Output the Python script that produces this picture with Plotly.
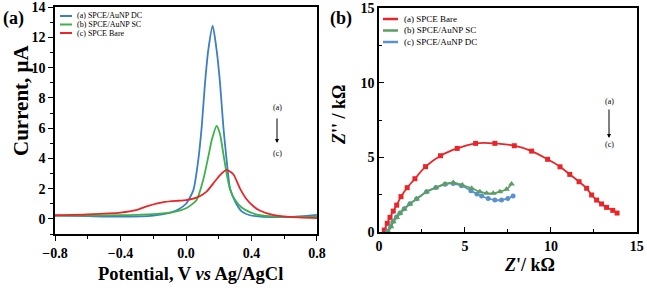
import plotly.graph_objects as go

# ---------------- Panel (a): DPV ----------------
dc_v = [-0.8, -0.6, -0.4, -0.2, -0.1, -0.05, 0.0, 0.045, 0.075, 0.096, 0.116, 0.136, 0.163,
        0.187, 0.208, 0.228, 0.248, 0.269, 0.3, 0.34, 0.39, 0.47, 0.57, 0.67, 0.8]
dc_i = [0.22, 0.18, 0.15, 0.22, 0.4, 0.6, 1.0, 1.9, 3.9, 6.1, 8.96, 11.16, 12.77,
        11.16, 8.96, 6.1, 3.9, 2.0, 1.15, 0.5, 0.24, 0.14, 0.11, 0.15, 0.26]

sc_v = [-0.8, -0.6, -0.4, -0.2, -0.08, 0.004, 0.065, 0.105, 0.136, 0.157, 0.187, 0.208,
        0.228, 0.248, 0.269, 0.3, 0.34, 0.39, 0.45, 0.55, 0.65, 0.8]
sc_i = [0.22, 0.22, 0.25, 0.32, 0.45, 0.72, 1.25, 2.57, 4.1, 5.2, 6.14, 5.6,
        4.3, 3.0, 1.95, 1.25, 0.75, 0.45, 0.24, 0.15, 0.13, 0.15]

bare_v = [-0.8, -0.6, -0.4, -0.3, -0.23, -0.13, -0.05, 0.0, 0.065, 0.126, 0.167, 0.208,
          0.248, 0.289, 0.33, 0.37, 0.41, 0.45, 0.53, 0.63, 0.8]
bare_i = [0.24, 0.3, 0.42, 0.6, 0.86, 1.12, 1.2, 1.24, 1.4, 1.8, 2.35, 2.9,
          3.24, 2.95, 2.0, 1.3, 0.85, 0.55, 0.26, 0.13, 0.05]

# ---------------- Panel (b): Nyquist ----------------
bare_zre = [0.31, 0.48, 0.64, 0.83, 1.03, 1.28, 1.64, 2.09, 2.71, 3.58, 4.55, 5.62, 6.74,
            7.87, 8.88, 9.81, 10.53, 11.1, 11.64, 12.08, 12.37, 12.66, 12.95, 13.24, 13.6, 13.85]
bare_zim = [0.13, 0.58, 0.98, 1.4, 1.8, 2.37, 2.97, 3.57, 4.38, 5.11, 5.6, 5.94, 5.94,
            5.78, 5.42, 4.87, 4.37, 3.86, 3.37, 2.93, 2.48, 2.14, 1.88, 1.65, 1.45, 1.27]

sc_zre = [0.54, 0.7, 0.83, 1.03, 1.22, 1.47, 1.8, 2.19, 2.77, 3.31, 3.84, 4.32, 4.85,
          5.39, 5.87, 6.26, 6.65, 7.03, 7.42, 7.71]
sc_zim = [0.02, 0.35, 0.69, 0.98, 1.25, 1.54, 1.88, 2.21, 2.7, 2.97, 3.22, 3.31, 3.15,
          2.93, 2.7, 2.6, 2.59, 2.7, 2.86, 3.22]

dc_zre = [0.5, 0.68, 0.82, 1.02, 1.22, 1.47, 1.8, 2.19, 2.77, 3.31, 3.84, 4.32, 4.8,
          5.35, 5.7, 5.97, 6.35, 6.74, 7.13, 7.5, 7.8]
dc_zim = [0.05, 0.4, 0.72, 1.0, 1.27, 1.55, 1.9, 2.22, 2.7, 2.98, 3.2, 3.25, 3.1,
          2.77, 2.55, 2.41, 2.25, 2.14, 2.14, 2.25, 2.41]

FONT = "Liberation Serif, Times New Roman, serif"
W, H = 647, 294

BLUE_A, GREEN_A, RED_A = "#3b7fc4", "#3db14a", "#e8262a"
RED_B, GREEN_B, BLUE_B = "#e8262a", "#5d9e62", "#5a93cc"

fig = go.Figure()

sp = dict(shape="spline", smoothing=0.6)
fig.add_trace(go.Scatter(x=dc_v, y=dc_i, mode="lines", line=dict(color=BLUE_A, width=1.8, **sp),
                         xaxis="x", yaxis="y", showlegend=False))
fig.add_trace(go.Scatter(x=sc_v, y=sc_i, mode="lines", line=dict(color=GREEN_A, width=1.8, **sp),
                         xaxis="x", yaxis="y", showlegend=False))
fig.add_trace(go.Scatter(x=bare_v, y=bare_i, mode="lines", line=dict(color=RED_A, width=1.8, **sp),
                         xaxis="x", yaxis="y", showlegend=False))

fig.add_trace(go.Scatter(x=bare_zre, y=bare_zim, mode="lines+markers",
                         line=dict(color=RED_B, width=1.8, shape="spline"),
                         marker=dict(symbol="square", size=5, color=RED_B),
                         xaxis="x2", yaxis="y2", showlegend=False))
fig.add_trace(go.Scatter(x=dc_zre, y=dc_zim, mode="lines+markers",
                         line=dict(color=BLUE_B, width=1.8, shape="spline"),
                         marker=dict(symbol="circle", size=5, color=BLUE_B),
                         xaxis="x2", yaxis="y2", showlegend=False))
fig.add_trace(go.Scatter(x=sc_zre, y=sc_zim, mode="lines+markers",
                         line=dict(color=GREEN_B, width=1.8, shape="spline"),
                         marker=dict(symbol="triangle-up", size=6, color=GREEN_B),
                         xaxis="x2", yaxis="y2", showlegend=False))

tickfont = dict(family=FONT, size=14, color="black", weight="bold")
common = dict(showline=True, linecolor="black", linewidth=1.5, mirror=True, showgrid=False,
              zeroline=False, tickfont=tickfont, ticklen=5, tickwidth=1.2, tickcolor="black",
              automargin=False, ticklabeloverflow="allow")

# page pixel -> paper fraction
px_x = lambda p: min(1.0, max(0.0, p / W))
px_y = lambda p: min(1.0, max(0.0, 1 - p / H))

fig.update_layout(
    width=W, height=H, margin=dict(l=0, r=0, t=0, b=0),
    paper_bgcolor="white", plot_bgcolor="white", showlegend=False,
    xaxis=dict(domain=[px_x(55), px_x(317)], range=[-0.8001, 0.8001], tickvals=[-0.8, -0.4, 0.0, 0.4, 0.8],
               tickformat=".1f", ticks="outside", anchor="y",
               minor=dict(dtick=0.2, ticks="outside", ticklen=3, tickcolor="black"), **common),
    yaxis=dict(domain=[px_y(234), px_y(7)], range=[-1, 14.01], tickvals=list(range(0, 15, 2)),
               ticks="outside", anchor="x",
               minor=dict(dtick=1, ticks="outside", ticklen=3, tickcolor="black"), **common),
    xaxis2=dict(domain=[px_x(379), px_x(637)], range=[0, 15.01], tickvals=[0, 5, 10, 15],
                ticks="inside", anchor="y2",
                minor=dict(dtick=2.5, ticks="inside", ticklen=3, tickcolor="black"), **common),
    yaxis2=dict(domain=[px_y(232), px_y(8)], range=[0, 15.01], tickvals=[0, 5, 10, 15],
                ticks="inside", anchor="x2",
                minor=dict(dtick=2.5, ticks="inside", ticklen=3, tickcolor="black"), **common),
)

ann = []
def text(x, y, s, size, xanchor="center", yanchor="middle", angle=0):
    ann.append(dict(x=px_x(x), y=px_y(y), xref="paper", yref="paper", text=s, showarrow=False,
                    xanchor=xanchor, yanchor=yanchor, textangle=angle,
                    font=dict(family=FONT, size=size, color="black")))

# panel labels
text(13, 19, "<b>(a)</b>", 18)
text(341, 19, "<b>(b)</b>", 18)
# axis titles
text(21, 100, "<b>Current, μA</b>", 21, angle=-90)
text(190, 274, "<b>Potential, V <i>vs</i> Ag/AgCl</b>", 18.5)
text(339, 115, "<b><i>Z</i>'' / kΩ</b>", 18, angle=-90)
text(529, 265, "<b><i>Z</i>'/ kΩ</b>", 18)
# (a)->(c) markers
text(277, 107, "(a)", 8)
text(277, 153, "(c)", 8)
text(609, 102, "(a)", 8)
text(609, 144, "(c)", 8)
ann.append(dict(x=px_x(277), y=px_y(143), xref="paper", yref="paper", ax=0, ay=-26, text="",
                showarrow=True, arrowhead=2, arrowsize=0.8, arrowwidth=1, arrowcolor="black"))
ann.append(dict(x=px_x(609), y=px_y(138), xref="paper", yref="paper", ax=0, ay=-30, text="",
                showarrow=True, arrowhead=2, arrowsize=0.8, arrowwidth=1, arrowcolor="black"))

# legends (manual)
shapes = []
left_leg = [("(a) SPCE/AuNP DC", BLUE_A, 16), ("(b) SPCE/AuNP SC", GREEN_A, 24.5), ("(c) SPCE Bare", RED_A, 33)]
for lab, col, yy in left_leg:
    shapes.append(dict(type="line", xref="paper", yref="paper", x0=px_x(60), x1=px_x(72),
                       y0=px_y(yy), y1=px_y(yy), line=dict(color=col, width=2)))
    text(75, yy, lab, 8, xanchor="left")
right_leg = [("(a) SPCE Bare", RED_B, 19), ("(b) SPCE/AuNP SC", GREEN_B, 30.5), ("(c) SPCE/AuNP DC", BLUE_B, 42)]
for lab, col, yy in right_leg:
    shapes.append(dict(type="line", xref="paper", yref="paper", x0=px_x(383), x1=px_x(398),
                       y0=px_y(yy), y1=px_y(yy), line=dict(color=col, width=2.5)))
    text(402, yy, lab, 9, xanchor="left")

fig.update_layout(annotations=ann, shapes=shapes)
fig.write_html("out.html", config={"displayModeBar": False},
               post_script="document.body.style.margin='0';document.body.style.overflow='hidden';")
